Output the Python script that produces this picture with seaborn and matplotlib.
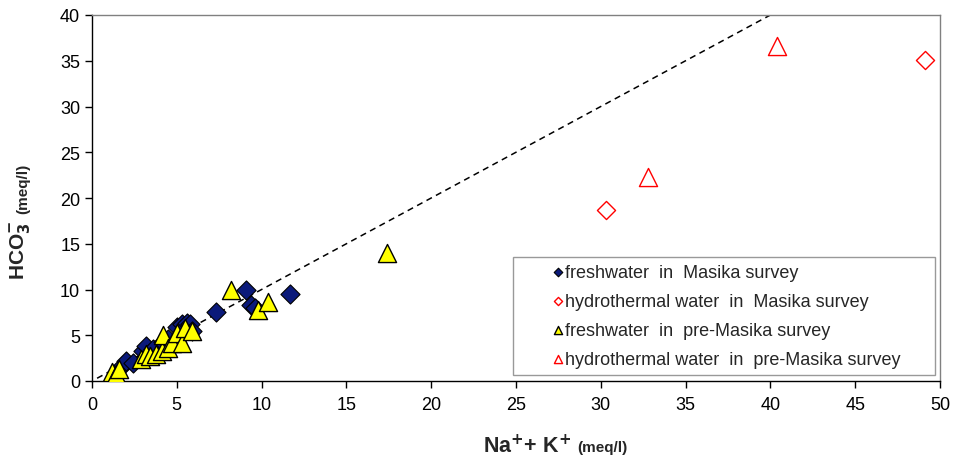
import numpy as np
import pandas as pd
import matplotlib
matplotlib.use("Agg")
import matplotlib.pyplot as plt
import seaborn as sns
from matplotlib.collections import PathCollection
from matplotlib.legend_handler import HandlerPathCollection

# Na+ + K+ (x) and HCO3- (y), meq/l
fresh_masika_x = [1.8, 2.0, 2.4, 3.0, 3.2, 3.6, 4.2, 4.5, 5.0, 5.3, 5.6, 5.8, 5.9, 7.3, 9.1, 9.4, 9.6, 11.7]
fresh_masika_y = [1.7, 2.2, 2.0, 3.3, 3.8, 3.5, 4.3, 4.6, 5.9, 6.2, 6.3, 6.2, 5.5, 7.5, 9.9, 8.3, 8.0, 9.5]

hydro_masika_x = [30.3, 49.1]
hydro_masika_y = [18.7, 35.1]

fresh_pre_x = [1.2, 1.4, 1.6, 2.9, 3.2, 3.4, 3.8, 4.1, 4.2, 4.5, 4.7, 5.0, 5.3, 5.5, 5.9, 8.2, 9.8, 10.4, 17.4]
fresh_pre_y = [1.0, 0.8, 1.3, 2.4, 3.0, 2.7, 3.0, 3.3, 5.0, 3.6, 4.2, 5.2, 4.2, 5.8, 5.5, 10.0, 7.8, 8.6, 14.0]

hydro_pre_x = [32.8, 40.4]
hydro_pre_y = [22.3, 36.6]

line_x = [0.3, 40.0]
line_y = [0.3, 40.0]

sns.set_style("white")
plt.rcParams['font.family'] = ['Liberation Sans', 'DejaVu Sans']

fig = plt.figure(figsize=(9.55, 4.64), dpi=100)
ax = fig.add_axes([92 / 955, 1 - 382 / 464, 848 / 955, 366 / 464])

sns.lineplot(x=line_x, y=line_y, ax=ax, color='black', linestyle=(0, (4, 3)),
             linewidth=1.1, legend=False)

sns.scatterplot(x=fresh_masika_x, y=fresh_masika_y, ax=ax, marker='D', s=95,
                color='#0b1a7a', edgecolor='black', linewidth=0.8,
                label='freshwater  in  Masika survey', zorder=3)
sns.scatterplot(x=hydro_masika_x, y=hydro_masika_y, ax=ax, marker='D', s=85,
                facecolor='white', edgecolor='red', linewidth=1.0,
                label='hydrothermal water  in  Masika survey', zorder=3)
sns.scatterplot(x=fresh_pre_x, y=fresh_pre_y, ax=ax, marker='^', s=170,
                color='#ffff00', edgecolor='black', linewidth=1.0,
                label='freshwater  in  pre-Masika survey', zorder=4)
sns.scatterplot(x=hydro_pre_x, y=hydro_pre_y, ax=ax, marker='^', s=170,
                facecolor='white', edgecolor='red', linewidth=1.0,
                label='hydrothermal water  in  pre-Masika survey', zorder=4)

ax.set_xlim(0, 50)
ax.set_ylim(0, 40)
ax.set_xticks(np.arange(0, 51, 5))
ax.set_yticks(np.arange(0, 41, 5))
ax.tick_params(axis='both', direction='out', length=5, width=1, labelsize=13,
               bottom=True, left=True, colors='black')
ax.tick_params(axis='x', pad=6)

for side in ['left', 'bottom']:
    ax.spines[side].set_color('black')
    ax.spines[side].set_linewidth(1.0)
for side in ['top', 'right']:
    ax.spines[side].set_color('#808080')
    ax.spines[side].set_linewidth(1.0)

ax.set_xlabel('')
ax.set_ylabel('')

# axis titles, big bold part + small bold unit part
fig.text(571 / 955, 1 - 446 / 464, 'Na$^{\\mathbf{+}}$+ K$^{\\mathbf{+}}$', fontsize=15.5,
         fontweight='bold', ha='right', va='center')
fig.text(577 / 955, 1 - 448 / 464, '(meq/l)', fontsize=11, fontweight='bold',
         ha='left', va='center')
fig.text(21 / 955, 1 - 250 / 464, 'HCO$_{\\mathbf{3}}^{\\mathbf{-}}$', fontsize=15,
         fontweight='bold', rotation=90, ha='center', va='center')
fig.text(23 / 955, 1 - 189 / 464, '(meq/l)', fontsize=11, fontweight='bold',
         rotation=90, ha='center', va='center')

leg = ax.legend(loc='lower left', bbox_to_anchor=(0.4965, 0.0164, 0.4976, 0.32),
                mode='expand', borderaxespad=0, fontsize=13,
                frameon=True, fancybox=False, edgecolor='#808080', markerscale=0.45,
                handletextpad=0.05, borderpad=0.38, labelspacing=0.665, handlelength=2.47,
                handler_map={PathCollection: HandlerPathCollection(xpad=1.79)})
leg.get_frame().set_linewidth(1.0)

fig.savefig('out.png', dpi=100)
